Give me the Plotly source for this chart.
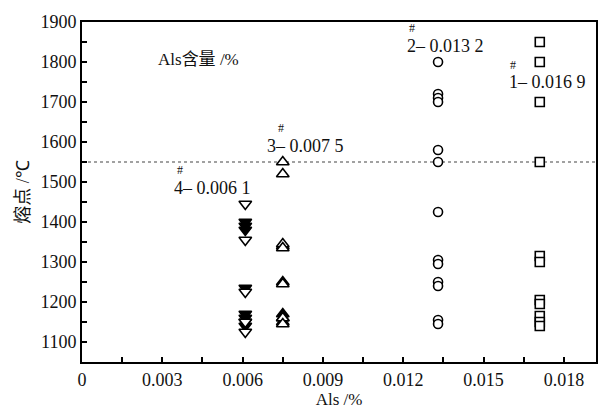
import plotly.graph_objects as go

# Group 4# (Als 0.0061) - down triangles
g4_x = 0.0061
g4_open = [1445, 1355, 1225, 1150, 1125]
g4_fill = [1400, 1390, 1380, 1235, 1170, 1160, 1150, 1140]
# Group 3# (Als 0.0075) - up triangles
g3_x = 0.0075
g3_open = [1550, 1520, 1345, 1335, 1245, 1160, 1145]
g3_fill = [1340, 1250, 1170, 1160, 1150]
# Group 2# (Als 0.0132) - circles
g2_x = 0.0133
g2_open = [1800, 1720, 1710, 1700, 1580, 1550, 1425, 1305, 1295, 1250, 1240, 1155, 1145]
# Group 1# (Als 0.0169) - squares
g1_x = 0.0171
g1_open = [1850, 1800, 1700, 1550, 1315, 1300, 1205, 1195, 1165, 1150, 1140]

ref_temp = 1550
x_ticks = [0, 0.003, 0.006, 0.009, 0.012, 0.015, 0.018]
x_tick_text = ["0", "0.003", "0.006", "0.009", "0.012", "0.015", "0.018"]
y_ticks = [1100, 1200, 1300, 1400, 1500, 1600, 1700, 1800, 1900]

SERIF = "Liberation Serif"
fig = go.Figure()

def add(xv, ys, sym, size=10, fill=False):
    fig.add_trace(go.Scatter(
        x=[xv] * len(ys), y=ys, mode="markers",
        marker=dict(symbol=sym, size=size, color="black" if fill else "white",
                    line=dict(color="black", width=1.6)),
        showlegend=False, cliponaxis=False))

add(g4_x, g4_fill, "triangle-down", size=11, fill=True)
add(g4_x, g4_open, "triangle-down", size=11)
add(g3_x, g3_fill, "triangle-up", size=11, fill=True)
add(g3_x, g3_open, "triangle-up", size=11)
add(g2_x, g2_open, "circle", size=9)
add(g1_x, g1_open, "square", size=9)

fig.add_shape(type="line", xref="paper", x0=0, x1=1, yref="y", y0=ref_temp, y1=ref_temp,
              line=dict(color="#444", width=1.2, dash="dot"), layer="below")

tfont = dict(family=SERIF, size=18, color="#111")
hfont = dict(family=SERIF, size=12, color="#111")
labels = [
    ("4– 0.006 1", 0.00488, 1486, 0.00367, 1530),
    ("3– 0.007 5", 0.00835, 1591, 0.00745, 1635),
    ("2– 0.013 2", 0.01357, 1839, 0.01233, 1886),
    ("1– 0.016 9", 0.01737, 1749, 0.0161, 1793),
]
for txt, x, y, hx, hy in labels:
    fig.add_annotation(x=x, y=y, text=txt, showarrow=False, font=tfont)
    fig.add_annotation(x=hx, y=hy, text="#", showarrow=False, font=hfont)

fig.add_annotation(x=0.00436, y=1812,
                   text="Als<span style='font-family:Noto Sans CJK SC'>含量</span> /%",
                   showarrow=False, font=dict(family=SERIF, size=17, color="#111"))

fig.update_layout(
    width=610, height=413,
    margin=dict(l=82, r=14, t=12, b=51),
    paper_bgcolor="white", plot_bgcolor="white",
    font=dict(family=SERIF, color="#111"),
    xaxis=dict(range=[0, 0.0192], tickvals=x_ticks, ticktext=x_tick_text,
               ticks="inside", ticklen=5, tickcolor="black", tickwidth=1.5,
               showgrid=False, zeroline=False,
               showline=True, linecolor="black", linewidth=2, mirror=True,
               minor=dict(dtick=0.0015, ticks="inside", ticklen=5, tickcolor="black", tickwidth=1.5),
               tickfont=dict(family=SERIF, size=18),
               title=dict(text="Als /%", font=dict(family=SERIF, size=17), standoff=0)),
    yaxis=dict(range=[1050, 1900], tickvals=y_ticks,
               ticks="inside", ticklen=5, tickcolor="black", tickwidth=1.5,
               showgrid=False, zeroline=False,
               showline=True, linecolor="black", linewidth=2, mirror=True,
               minor=dict(dtick=50, ticks="inside", ticklen=5, tickcolor="black", tickwidth=1.5),
               tickfont=dict(family=SERIF, size=18),
               title=dict(text="<span style='font-family:Noto Sans CJK SC'>熔点</span> /℃",
                          font=dict(family=SERIF, size=18), standoff=6)),
)

fig.write_html("out.html")
